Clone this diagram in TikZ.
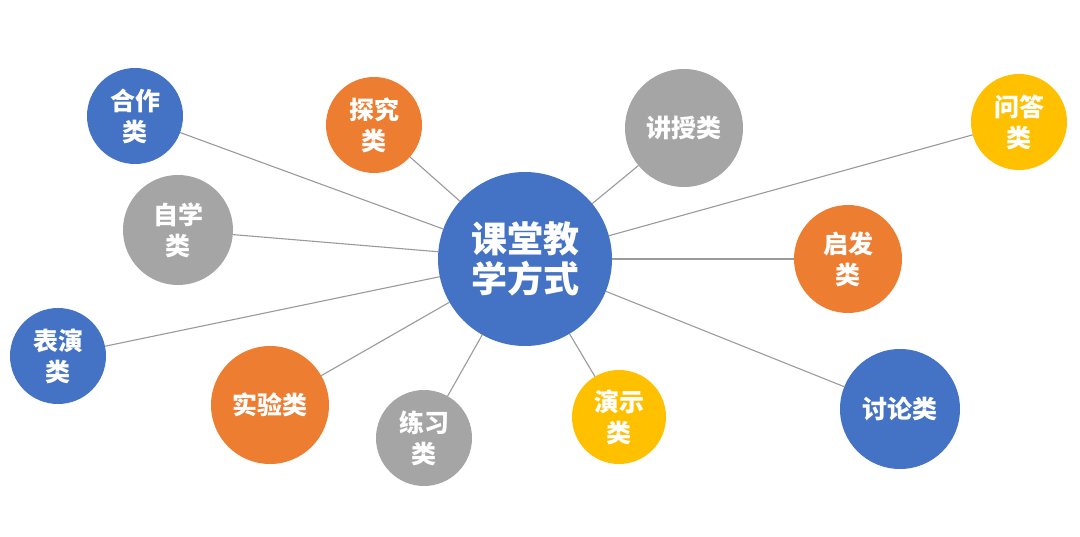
\documentclass[tikz,border=0pt]{standalone}
\usepackage{fontspec}
\newfontfamily\cjk{Noto Sans CJK SC}
\definecolor{cblue}{HTML}{4472C4}
\definecolor{corange}{HTML}{ED7D31}
\definecolor{cgray}{HTML}{A5A5A5}
\definecolor{cyellow}{HTML}{FFC000}
\definecolor{cline}{HTML}{9A9A9A}
\tikzset{
  bubble/.style={circle, inner sep=0pt, outer sep=0pt, text=white, align=center,
    font=\cjk\bfseries\fontsize{25}{31}\selectfont},
  bblue/.style={bubble, fill=cblue},
  borange/.style={bubble, fill=corange},
  bgray/.style={bubble, fill=cgray},
  byellow/.style={bubble, fill=cyellow},
  hub/.style={bubble, fill=cblue, font=\cjk\bfseries\fontsize{36}{40}\selectfont},
  link/.style={draw=cline, line width=1.1pt}
}
\begin{document}
\begin{tikzpicture}[x=1pt,y=-1pt]
\useasboundingbox[fill=white] (0,0) rectangle (1080,537);
\node[hub, minimum size=174pt] (c) at (525,259) {课堂教\\学方式};
\node[bblue, minimum size=96pt] (hezuo) at (135,116) {合作\\类};
\node[borange, minimum size=96pt] (tanjiu) at (374,125) {探究\\类};
\node[bgray, minimum size=118pt] (jiangshou) at (684,128) {讲授类};
\node[byellow, minimum size=96pt] (wenda) at (1019,122) {问答\\类};
\node[bgray, minimum size=110pt] (zixue) at (178,230) {自学\\类};
\node[borange, minimum size=108pt] (qifa) at (848,259) {启发\\类};
\node[bblue, minimum size=96pt] (biaoyan) at (58,356) {表演\\类};
\node[borange, minimum size=118pt] (shiyan) at (270,405) {实验类};
\node[bgray, minimum size=96pt] (lianxi) at (424,438) {练习\\类};
\node[byellow, minimum size=94pt] (yanshi) at (619,417) {演示\\类};
\node[bblue, minimum size=120pt] (taolun) at (900,409) {讨论类};
\foreach \n in {hezuo,tanjiu,jiangshou,wenda,zixue,qifa,biaoyan,shiyan,lianxi,yanshi,taolun}
  \draw[link] (c) -- (\n);
\end{tikzpicture}
\end{document}
